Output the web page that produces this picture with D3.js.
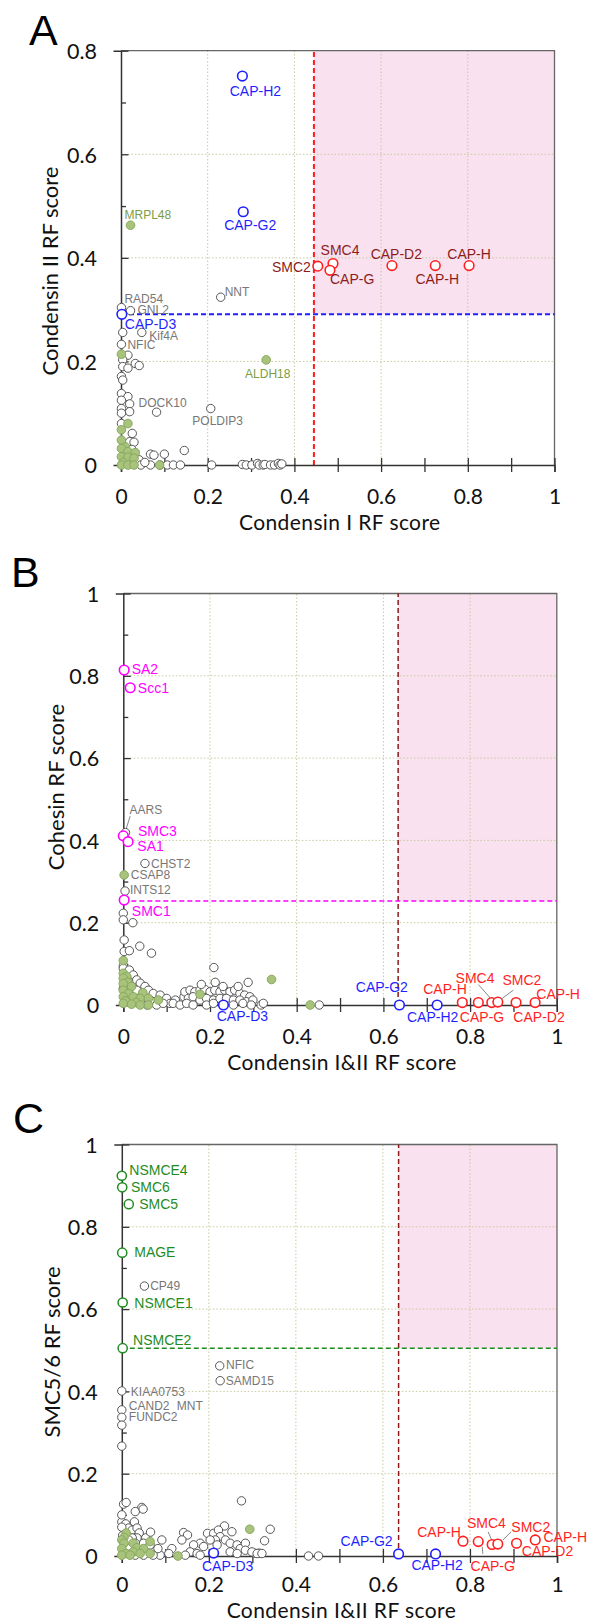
<!DOCTYPE html>
<html>
<head>
<meta charset="utf-8">
<script src="https://cdn.jsdelivr.net/npm/d3@7"></script>
<style>
  body { margin: 0; background: #fff; }
  svg { display: block; }
</style>
</head>
<body>
<script>
// ---------- data ----------
// tick values
const xMajor = [0, 0.2, 0.4, 0.6, 0.8, 1];
const xMinor = [0.1, 0.3, 0.5, 0.7, 0.9];
const yMajorA = [0, 0.2, 0.4, 0.6, 0.8];
const yMinorA = [0.1, 0.3, 0.5, 0.7];
const yMajorBC = [0, 0.2, 0.4, 0.6, 0.8, 1];
const yMinorBC = [0.1, 0.3, 0.5, 0.7, 0.9];

// panel A: Condensin I (x) vs Condensin II (y)
const aGray = [[0.004,0.256],[0.016,0.212],[0.004,0.203],[0.033,0.196],[0.042,0.192],[0.004,0.190],[0.016,0.187],
  [0.001,0.171],[0.004,0.164],[0.001,0.138],[0.016,0.132],[0.001,0.125],[0.020,0.118],[0.001,0.109],[0.020,0.103],
  [0.001,0.100],[0.001,0.080],[0.026,0.061],[0.020,0.045],[0.030,0.044],[0.025,0.030],[0.042,0.010],[0.046,0],
  [0.068,0.021],[0.076,0.019],[0.068,0],[0.055,0.005],[0.100,0.021],[0.090,0],[0.107,0],[0.121,0],[0.137,0],
  [0.146,0.028],[0.209,0],[0.280,0.001],[0.289,0],[0.302,0],[0.315,0.003],[0.319,0],[0.328,0],[0.332,0.001],
  [0.345,0],[0.354,0],[0.363,0.003],[0.367,0],[0.371,0.002]];
const aOlive = [[0.001,0.214],[0.016,0.080],[0.001,0.068],[0.001,0.048],[0.010,0.035],[0.001,0.032],[0.016,0.026],
  [0.033,0.024],[0.001,0.016],[0.016,0.015],[0.030,0.013],[0.005,0.005],[0.001,0],[0.016,0],[0.030,0],[0.089,0]];
const aNamed = [
  {name:'CAP-H2', x:0.280, y:0.751, grp:'c2'},
  {name:'CAP-G2', x:0.282, y:0.489, grp:'c2'},
  {name:'CAP-D3', x:0.002, y:0.291, grp:'c2'},
  {name:'MRPL48', x:0.022, y:0.463, grp:'olive'},
  {name:'ALDH18', x:0.335, y:0.203, grp:'olive'},
  {name:'SMC2', x:0.454, y:0.384, grp:'c1'},
  {name:'SMC4', x:0.489, y:0.389, grp:'c1'},
  {name:'CAP-G', x:0.482, y:0.376, grp:'c1'},
  {name:'CAP-D2', x:0.625, y:0.385, grp:'c1'},
  {name:'CAP-H', x:0.725, y:0.385, grp:'c1'},
  {name:'CAP-H', x:0.803, y:0.385, grp:'c1'},
  {name:'NNT', x:0.230, y:0.324, grp:'other'},
  {name:'RAD54', x:0.001, y:0.304, grp:'other'},
  {name:'GNL2', x:0.022, y:0.298, grp:'other'},
  {name:'Kif4A', x:0.048, y:0.256, grp:'other'},
  {name:'NFIC', x:0.001, y:0.233, grp:'other'},
  {name:'DOCK10', x:0.082, y:0.102, grp:'other'},
  {name:'POLDIP3', x:0.207, y:0.109, grp:'other'}
];
const aCut = [0.445, 0.291];

// panel B: Condensin I&II (x) vs Cohesin (y)
const bGray = [[0,0.223],[0,0.207],[0.022,0.200],[0.002,0.158],[0.002,0.130],[0.014,0.132],[0.038,0.143],[0.065,0.126],
  [0,0.095],[0,0.089],[0.014,0.085],[0.023,0.073],[0.031,0.061],[0.039,0.053],[0.050,0.045],[0.058,0.036],
  [0.069,0.028],[0.085,0.024],[0.100,0.016],[0.108,0.004],[0.077,0],[0.092,0.004],[0.008,0.065],[0.019,0.045],
  [0.031,0.036],[0.046,0.020],[0.062,0.012],[0,0.040],[0.010,0.025],[0.040,0.004],[0.055,0],[0.120,0.012],
  [0.140,0.020],[0.142,0.032],[0.154,0.036],[0.165,0.032],[0.177,0.036],[0.188,0.038],[0.200,0.032],[0.211,0.036],
  [0.223,0.032],[0.234,0.036],[0.246,0.032],[0.257,0.036],[0.269,0.028],[0.280,0.024],[0.292,0.020],[0.150,0.016],
  [0.161,0.020],[0.177,0.012],[0.192,0.016],[0.208,0.012],[0.223,0.016],[0.238,0.016],[0.254,0.012],[0.269,0.012],
  [0.284,0.008],[0.299,0.012],[0.115,0.004],[0.131,0],[0.146,0.004],[0.161,0],[0.192,0],[0.208,0.004],[0.254,0],
  [0.276,0.004],[0.295,0],[0.318,0],[0.323,0.004],[0.209,0.091],[0.212,0.055],[0.288,0.055],[0.452,0],
  [0.230,0.045],[0.265,0.045],[0.180,0.050]];
const bOlive = [[0,0.108],[0,0.077],[0.008,0.069],[0,0.065],[0.010,0.055],[0,0.052],[0.019,0.045],[0,0.036],
  [0.045,0.030],[0.012,0.028],[0,0.020],[0.023,0.020],[0.039,0.016],[0.058,0.016],[0.005,0.010],[0.030,0.006],
  [0,0.004],[0.019,0.002],[0.039,0],[0.058,0],[0.081,0.012],[0.177,0.026],[0.342,0.062],[0.431,0]];
const bNamed = [
  {name:'SA2', x:0.002, y:0.814, grp:'coh'},
  {name:'Scc1', x:0.016, y:0.771, grp:'coh'},
  {name:'AARS', x:0.005, y:0.419, grp:'other'},
  {name:'SMC3', x:0.000, y:0.411, grp:'coh'},
  {name:'SA1', x:0.011, y:0.397, grp:'coh'},
  {name:'CHST2', x:0.050, y:0.344, grp:'other'},
  {name:'CSAP8', x:0.002, y:0.316, grp:'oliveGray'},
  {name:'INTS12', x:0.004, y:0.277, grp:'other'},
  {name:'SMC1', x:0.002, y:0.255, grp:'coh'},
  {name:'CAP-D3', x:0.231, y:0, grp:'c2'},
  {name:'CAP-G2', x:0.637, y:0, grp:'c2'},
  {name:'CAP-H2', x:0.724, y:0, grp:'c2'},
  {name:'CAP-H', x:0.782, y:0.006, grp:'c1'},
  {name:'CAP-G', x:0.819, y:0.006, grp:'c1'},
  {name:'SMC4', x:0.850, y:0.006, grp:'c1'},
  {name:'SMC2', x:0.864, y:0.007, grp:'c1'},
  {name:'CAP-D2', x:0.906, y:0.006, grp:'c1'},
  {name:'CAP-H', x:0.950, y:0.006, grp:'c1'}
];
const bCut = [0.634, 0.253];

// panel C: Condensin I&II (x) vs SMC5/6 (y)
const cGray = [[0,0.267],[0.004,0.126],[0.010,0.130],[0.046,0.118],[0.031,0.108],[0.049,0.114],[0.275,0.134],
  [0.341,0.065],[0.328,0.037],[0.429,0],[0.452,0],[0.305,0.007],[0.316,0.007],[0.142,0.057],[0.151,0.051],
  [0.138,0.039],[0.236,0.073],[0.253,0.059],[0.197,0.055],[0.211,0.055],[0.222,0.063],[0.226,0.047],[0.215,0.039],
  [0.203,0.039],[0.180,0.031],[0.165,0.027],[0.188,0.023],[0.219,0.027],[0.238,0.039],[0.249,0.031],[0.265,0.027],
  [0.272,0.018],[0.284,0.031],[0.284,0.014],[0.299,0.010],[0.311,0.006],[0.322,0.006],[0.115,0.018],[0.108,0.006],
  [0.092,0.039],[0.088,0.002],[0.157,0.010],[0.146,0.002],[0.173,0.006],[0.249,0.010],[0.265,0.006],[0.180,0.002],
  [0,0.083],[0.009,0.078],[0.016,0.068],[0.029,0.083],[0.024,0.063],[0.035,0.068],[0.040,0.056],[0.055,0.044],
  [0.035,0.044],[0.024,0.044],[0.016,0.039],[0.031,0.031],[0.050,0.031],[0.065,0.027],[0.083,0.018],[0.072,0.002],
  [0.050,0.002],[0.031,0.002],[0,0.070],[0,0.100],[0.002,0.050],[0.066,0.058]];
const cOlive = [[0.010,0.056],[0.005,0.045],[0,0.039],[0.005,0.031],[0.026,0.031],[0.065,0.035],[0.035,0.020],
  [0,0.018],[0.050,0.018],[0.026,0.010],[0.010,0.006],[0.042,0.006],[0.065,0.006],[0,0.002],[0.019,0.002],
  [0.129,0],[0.294,0.065]];
const cNamed = [
  {name:'NSMCE4', x:0.000, y:0.924, grp:'smc56'},
  {name:'SMC6', x:0.001, y:0.896, grp:'smc56'},
  {name:'SMC5', x:0.016, y:0.855, grp:'smc56'},
  {name:'MAGE', x:0.001, y:0.737, grp:'smc56'},
  {name:'CP49', x:0.052, y:0.656, grp:'other'},
  {name:'NSMCE1', x:0.002, y:0.616, grp:'smc56'},
  {name:'NSMCE2', x:0.002, y:0.505, grp:'smc56'},
  {name:'NFIC', x:0.225, y:0.462, grp:'other'},
  {name:'SAMD15', x:0.226, y:0.426, grp:'other'},
  {name:'KIAA0753', x:0.000, y:0.401, grp:'other'},
  {name:'CAND2', x:0.000, y:0.355, grp:'other'},
  {name:'MNT', x:0.000, y:0.337, grp:'other'},
  {name:'FUNDC2', x:0.000, y:0.318, grp:'other'},
  {name:'CAP-D3', x:0.211, y:0.007, grp:'c2'},
  {name:'CAP-G2', x:0.636, y:0.005, grp:'c2'},
  {name:'CAP-H2', x:0.721, y:0.005, grp:'c2'},
  {name:'CAP-H', x:0.784, y:0.036, grp:'c1'},
  {name:'CAP-G', x:0.819, y:0.035, grp:'c1'},
  {name:'SMC4', x:0.851, y:0.028, grp:'c1'},
  {name:'SMC2', x:0.864, y:0.029, grp:'c1'},
  {name:'CAP-D2', x:0.907, y:0.031, grp:'c1'},
  {name:'CAP-H', x:0.950, y:0.039, grp:'c1'}
];
const cCut = [0.636, 0.505];

// ---------- label placement (pixels from the point: dx, dy, anchor, optional leader) ----------
const aLabelAt = [[13,20,'middle'],[7,18,'middle'],[3,15,'start'],[-6,-6,'start'],[1.5,18,'middle'],
  [-7,6,'end'],[-12.4,-9,'start'],[0,14,'start'],[4.4,-7,'middle'],[2,18,'middle'],[0,-7,'middle'],
  [4,-1,'start'],[3,-5,'start'],[7,3,'start'],[7.5,8,'start'],[6,5,'start'],[6,-5,'middle'],[-18.4,16,'start']];
const bLabelAt = [[7.5,3.5,'start'],[7.6,5.3,'start'],[4,-18.7,'start',[4.7,-16.5,0.8,-4]],[14.6,0,'start'],
  [9.3,9.3,'start'],[6,4.2,'start'],[6.7,4,'start'],[5,3.3,'start'],[7.7,15.5,'start'],
  [19,16,'middle'],[-17.6,-13,'middle'],[-4.5,17,'middle'],[-17.3,-9,'middle'],[3.7,19,'middle'],
  [-16.7,-20,'middle',[-13.4,-18,-1.5,-4.5]],[24,-17,'middle',[15.6,-12,4,-3.5]],[23,19,'middle'],[23,-4,'middle']];
const cLabelAt = [[7.5,-1,'start'],[8.7,5,'start'],[10.5,5,'start'],[12,4,'start'],[5.7,4,'start'],
  [11.7,5,'start'],[10.4,-3.5,'start'],[6.4,3,'start'],[5.7,4,'start'],[9,5,'start'],[7,0,'start'],
  [55,-7,'start'],[7,-4,'start'],[14,18,'middle'],[-32,-8,'middle'],[1.5,16.5,'middle'],[-24,-4.5,'middle'],
  [14.5,29,'middle',[4,5,4.6,12.3]],[-5.7,-16,'middle',[-4,-12.6,-0.7,-5]],[33,-12.5,'middle',[13.4,-12.3,5,-4]],
  [31,12.5,'middle'],[30,2,'middle']];

// ---------- styles ----------
const mark = {
  c1:    {stroke:'#ff1f1f', fill:'#fff', r:4.8, sw:1.6},
  c2:    {stroke:'#1f1fff', fill:'#fff', r:4.8, sw:1.6},
  coh:   {stroke:'#ff00ff', fill:'#fff', r:4.8, sw:1.6},
  smc56: {stroke:'#1e8c1e', fill:'#fff', r:4.6, sw:1.5},
  olive: {stroke:'#8aa85e', fill:'#a8c47c', r:4.3, sw:1},
  oliveGray: {stroke:'#8aa85e', fill:'#a8c47c', r:4.3, sw:1},
  other: {stroke:'#555', fill:'#fff', r:4.2, sw:1}
};
const textColor = {c2:'#1f1fff', coh:'#ff00ff', smc56:'#1e8c1e', olive:'#7c9c46', oliveGray:'#777', other:'#777'};

const W = 589, H = 1623;
const svg = d3.select('body').append('svg').attr('width', W).attr('height', H);
const tickFont = 'Lato, "Open Sans", sans-serif';
const labFont = '"Liberation Sans", Arial, sans-serif';

function drawPanel(p) {
  const x = d3.scaleLinear().domain([0, 1]).range([p.left, p.right]);
  const y = d3.scaleLinear().domain([0, p.ymax]).range([p.bottom, p.top]);
  const g = svg.append('g');

  // highlighted quadrant
  g.append('rect')
    .attr('x', x(p.cut[0])).attr('y', y(p.ymax))
    .attr('width', x(1) - x(p.cut[0])).attr('height', y(p.cut[1]) - y(p.ymax))
    .attr('fill', '#f9e1ef');

  // dotted grid
  g.selectAll('.gx').data(xMajor.filter(d => d > 0 && d < 1)).enter().append('line')
    .attr('x1', d => x(d)).attr('x2', d => x(d)).attr('y1', y(0)).attr('y2', y(p.ymax))
    .attr('stroke', '#c9c9a0').attr('stroke-width', 1).attr('stroke-dasharray', '1.5,2');
  g.selectAll('.gy').data(p.yMajor.filter(d => d > 0 && d < p.ymax)).enter().append('line')
    .attr('y1', d => y(d)).attr('y2', d => y(d)).attr('x1', x(0)).attr('x2', x(1))
    .attr('stroke', '#c9c9a0').attr('stroke-width', 1).attr('stroke-dasharray', '1.5,2');

  // frame (top, right)
  g.append('path')
    .attr('d', `M${x(0)},${y(p.ymax)}H${x(1)}V${y(0)}`)
    .attr('fill', 'none').attr('stroke', '#666').attr('stroke-width', 1.3);

  // threshold lines
  g.append('line').attr('x1', x(p.cut[0])).attr('x2', x(p.cut[0])).attr('y1', y(0)).attr('y2', y(p.ymax))
    .attr('stroke', p.vColor).attr('stroke-width', p.vWidth).attr('stroke-dasharray', '5,3');
  g.append('line').attr('x1', x(0)).attr('x2', x(1)).attr('y1', y(p.cut[1])).attr('y2', y(p.cut[1]))
    .attr('stroke', p.hColor).attr('stroke-width', p.hWidth).attr('stroke-dasharray', '5,3');

  // x axis: ticks crossing the line every 0.1
  const xa = g.append('g').attr('transform', `translate(0,${y(0)})`)
    .call(d3.axisBottom(x).tickValues(xMajor.concat(xMinor)).tickSize(7).tickFormat(''));
  xa.select('.domain').attr('stroke', '#333').attr('stroke-width', 1.5);
  xa.selectAll('.tick line').attr('y1', -7).attr('stroke', '#333').attr('stroke-width', 1.3);
  g.append('g').attr('transform', `translate(0,${y(0) + p.xTickDy})`)
    .call(d3.axisBottom(x).tickValues(xMajor).tickSize(0).tickFormat(d => String(d)))
    .call(a => a.select('.domain').remove())
    .selectAll('text').attr('font-family', tickFont).attr('font-size', 21).attr('fill', '#111');

  // y axis
  const ya = g.append('g').attr('transform', `translate(${x(0)},0)`)
    .call(d3.axisLeft(y).tickValues(p.yMajor).tickSize(7.5).tickFormat(''));
  ya.select('.domain').attr('stroke', '#333').attr('stroke-width', 1.5);
  ya.selectAll('.tick line').attr('x2', 7.5).attr('stroke', '#333').attr('stroke-width', 1.3);
  const ym = g.append('g').attr('transform', `translate(${x(0)},0)`)
    .call(d3.axisLeft(y).tickValues(p.yMinor).tickSize(5).tickFormat(''));
  ym.select('.domain').remove();
  ym.selectAll('.tick line').attr('x2', 5).attr('stroke', '#333').attr('stroke-width', 1.3);
  g.append('g').attr('transform', `translate(${x(0) - 21},0)`)
    .call(d3.axisLeft(y).tickValues(p.yMajor).tickSize(0).tickFormat(d => String(d)))
    .call(a => a.select('.domain').remove())
    .selectAll('text').attr('font-family', tickFont).attr('font-size', 21.5).attr('fill', '#111')
    .attr('dy', '0.36em');

  // axis titles
  g.append('text').attr('x', (x(0) + x(1)) / 2 + 2).attr('y', y(0) + p.xTitleDy)
    .attr('text-anchor', 'middle').attr('font-family', tickFont).attr('font-size', 21)
    .attr('letter-spacing', 0.4).attr('fill', '#111')
    .text(p.xTitle);
  g.append('text').attr('transform', `translate(${p.yTitleX},${p.yTitleY}) rotate(-90)`)
    .attr('text-anchor', 'middle').attr('font-family', tickFont).attr('font-size', 22).attr('fill', '#111')
    .text(p.yTitle);

  // panel letter
  g.append('text').attr('x', p.letterX).attr('y', p.letterY)
    .attr('font-family', labFont).attr('font-size', 43).attr('fill', '#000').text(p.letter);

  // background points
  g.selectAll('.bg').data(p.gray).enter().append('circle')
    .attr('cx', d => x(d[0])).attr('cy', d => y(d[1])).attr('r', mark.other.r)
    .attr('fill', '#fff').attr('stroke', mark.other.stroke).attr('stroke-width', mark.other.sw);
  g.selectAll('.ol').data(p.olive).enter().append('circle')
    .attr('cx', d => x(d[0])).attr('cy', d => y(d[1])).attr('r', mark.olive.r)
    .attr('fill', mark.olive.fill).attr('stroke', mark.olive.stroke).attr('stroke-width', mark.olive.sw);

  // named points with labels
  const named = p.named.map((d, i) => Object.assign({}, d, {at: p.labelAt[i]}));
  const order = ['other', 'olive', 'oliveGray', 'smc56', 'coh', 'c2', 'c1'];
  named.sort((a, b) => order.indexOf(a.grp) - order.indexOf(b.grp));

  g.selectAll('.lead').data(named.filter(d => d.at[3])).enter().append('line')
    .attr('x1', d => x(d.x) + d.at[3][0]).attr('y1', d => y(d.y) + d.at[3][1])
    .attr('x2', d => x(d.x) + d.at[3][2]).attr('y2', d => y(d.y) + d.at[3][3])
    .attr('stroke', '#888').attr('stroke-width', 1);

  g.selectAll('.np').data(named).enter().append('circle')
    .attr('cx', d => x(d.x)).attr('cy', d => y(d.y)).attr('r', d => mark[d.grp].r)
    .attr('fill', d => mark[d.grp].fill).attr('stroke', d => mark[d.grp].stroke)
    .attr('stroke-width', d => mark[d.grp].sw);

  g.selectAll('.nl').data(named).enter().append('text')
    .attr('x', d => x(d.x) + d.at[0]).attr('y', d => y(d.y) + d.at[1])
    .attr('text-anchor', d => d.at[2])
    .attr('font-family', labFont)
    .attr('font-size', d => (d.grp === 'other' || d.grp === 'olive' || d.grp === 'oliveGray') ? 12 : 14)
    .attr('fill', d => d.grp === 'c1' ? p.c1Text : textColor[d.grp])
    .text(d => d.name);
}

drawPanel({letter:'A', letterX:29, letterY:45, left:121, right:554.5, top:50.7, bottom:465, ymax:0.8,
  yMajor:yMajorA, yMinor:yMinorA, gray:aGray, olive:aOlive, named:aNamed, labelAt:aLabelAt, cut:aCut,
  vColor:'#ff1a1a', vWidth:2, hColor:'#1f1fff', hWidth:2, c1Text:'#8c1c1c', xTickDy:21, xTitleDy:64.5,
  xTitle:'Condensin I RF score', yTitle:'Condensin II RF score', yTitleX:58, yTitleY:271});
drawPanel({letter:'B', letterX:11, letterY:587, left:123.3, right:556.8, top:593.5, bottom:1005, ymax:1,
  yMajor:yMajorBC, yMinor:yMinorBC, gray:bGray, olive:bOlive, named:bNamed, labelAt:bLabelAt, cut:bCut,
  vColor:'#8b1a1a', vWidth:1.5, hColor:'#ff00ff', hWidth:1.5, c1Text:'#ff1f1f', xTickDy:21, xTitleDy:64.5,
  xTitle:'Condensin I&II RF score', yTitle:'Cohesin RF score', yTitleX:64, yTitleY:787});
drawPanel({letter:'C', letterX:13, letterY:1133, left:121.8, right:557, top:1144.5, bottom:1556, ymax:1,
  yMajor:yMajorBC, yMinor:yMinorBC, gray:cGray, olive:cOlive, named:cNamed, labelAt:cLabelAt, cut:cCut,
  vColor:'#8b1a1a', vWidth:1.5, hColor:'#1e8c1e', hWidth:1.5, c1Text:'#ff1f1f', xTickDy:18.5, xTitleDy:62,
  xTitle:'Condensin I&II RF score', yTitle:'SMC5/6 RF score', yTitleX:60, yTitleY:1352});
</script>
</body>
</html>
